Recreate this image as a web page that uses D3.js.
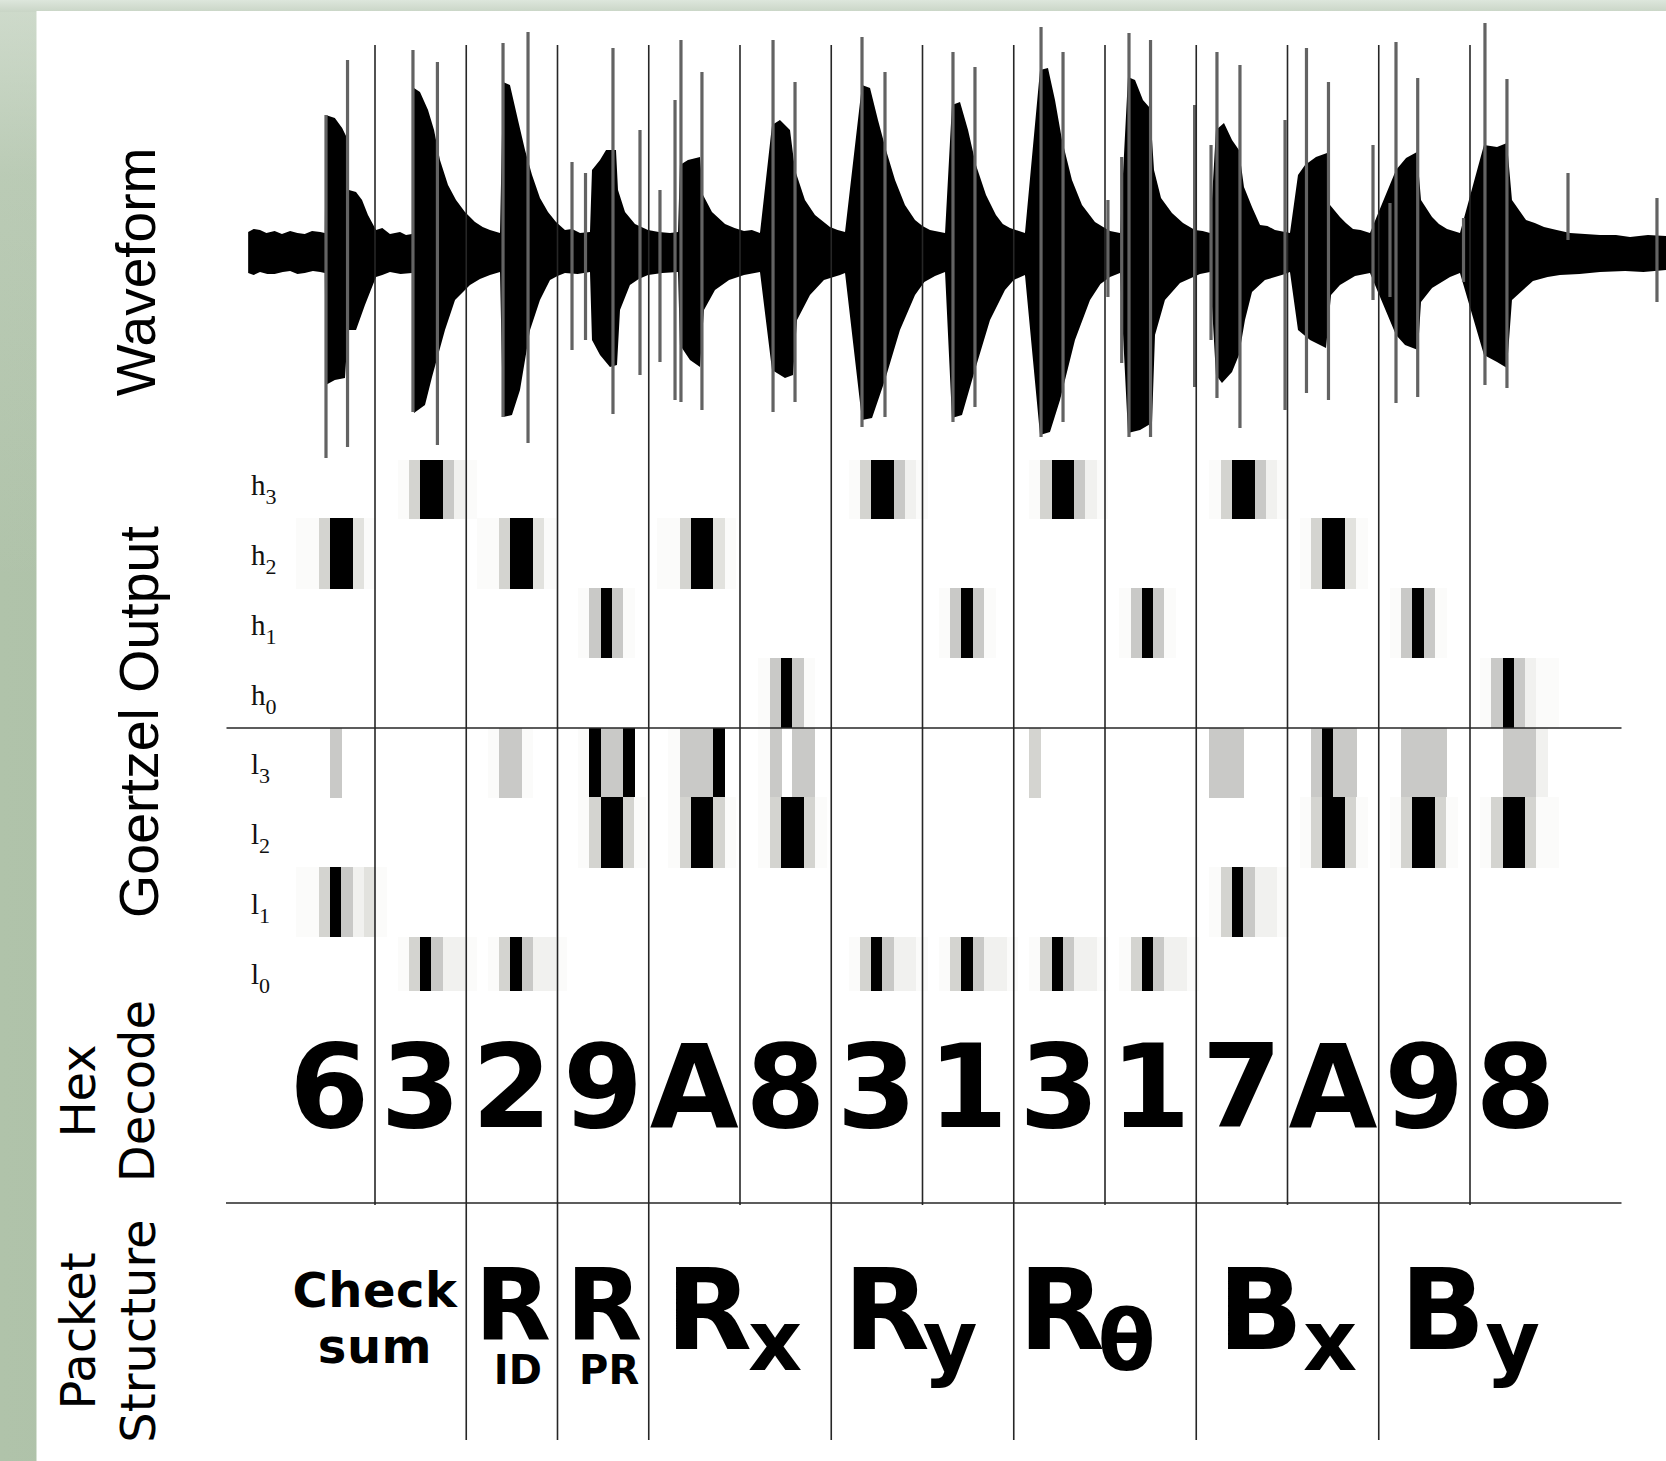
<!DOCTYPE html>
<html>
<head>
<meta charset="utf-8">
<script src="https://cdn.jsdelivr.net/npm/d3@7"></script>
<style>
  body { margin: 0; background: #fff; }
  svg { display: block; }
</style>
</head>
<body>
<div id="chart"></div>
<script>
var W = 1666, H = 1461;

// decoded symbols, one per time slot
var digits = ['6','3','2','9','A','8','3','1','3','1','7','A','9','8'];

// goertzel filter bank rows, top to bottom
var rowNames = ['h3','h2','h1','h0','l3','l2','l1','l0'];

// spectrogram: one char per time bin (8 bins per slot), '.'=0 ... '9'=full power
var gH3 = ['........','..149952','1.......','........','........','........','..149952','1.......','..149952','1.......','..149952','1.......','........','........','.'];
var gH2 = ['.1149931','........','.1149931','........','.1149931','........','........','........','........','........','........','..149931','........','........','.'];
var gH1 = ['........','........','........','..15951.','........','........','........','..15951.','........','..15951.','........','........','..15951.','........','.'];
var gH0 = ['........','........','........','........','........','..15951.','........','........','........','........','........','........','........','..159521','1'];
var gL3 = ['....5...','........','..1551..','..19559.','..15559.','..15.55.','........','........','..4.....','........','..555...','...5955.','...5555.','....5552','.'];
var gL2 = ['........','........','........','..149941','..149941','..149941','........','........','........','........','........','..149941','..149941','..149941','1'];
var gL1 = ['.1149523','1.......','........','........','........','........','........','........','........','........','..149522','1.......','........','........','.'];
var gL0 = ['........','..149522','1.149522','1.......','........','........','..149522','1.149522','1.149522','1.149522','1.......','........','........','........','.'];
var goertzel = [gH3, gH2, gH1, gH0, gL3, gL2, gL1, gL0].map(function(r) { return r.join(''); });

var shades = {'1':'#fbfbfa','2':'#f1f1ef','3':'#e2e2de','4':'#d4d4d0','5':'#c9c9c7','9':'#000000'};

// waveform envelope, time in 1/100 slot, amplitude in arbitrary units
var wfUpper = [[-39,20],[-33,23],[-26,22],[-19,19],[-10,21],[-2,18],[7,21],[15,19],[23,18],[31,21],[40,20],[45,19],
  [46,137],[56,134],[64,124],[70.4,112],[71.5,62],[79.2,60],[85.8,52],[92.3,37],[101.1,22],[108,24],[116.4,18],[127.4,20],[134,17],[140.5,18],
  [142.7,164],[149.3,160],[158.1,142],[164.7,122],[171.2,92],[180,67],[188.8,52],[198.6,40],[209.6,30],[218,25],[226,22],[237,19],
  [240.3,170],[247.9,167],[256.7,132],[264.4,102],[272.1,77],[280.8,54],[289.6,40],[298.4,30],[308.2,22],[316,23],[324.7,19],[335.6,20],
  [337.8,82],[346.6,92],[353.2,102],[364.1,102],[366.3,62],[374,40],[384.9,28],[392,25],[399.2,22],[411,20],[423.3,19],[432.1,20],
  [434.2,87],[443,92],[456.2,95],[459.5,57],[469.3,40],[483.6,28],[494,24],[504.4,21],[513,22],[521.9,19],
  [535.1,127],[543.8,132],[554.8,122],[560.3,82],[571.2,52],[582.2,37],[598.6,25],[607,22],[615.1,20],
  [633.7,167],[642.5,164],[651.2,132],[660,102],[669.9,72],[680.8,47],[691.8,32],[700,26],[708.2,22],[724.7,19],
  [732.3,147],[741.1,150],[749.9,122],[758.6,87],[769.6,57],[780.5,37],[788,28],[795.9,24],[812.3,19],
  [828.8,182],[837.5,184],[845.2,152],[852.9,112],[863.8,72],[874.8,47],[889,30],[898,25],[905.5,21],[916.4,19],
  [925.2,175],[932.9,172],[941.6,152],[949.3,144],[953.7,82],[961.4,54],[973.4,39],[985.5,29],[998.6,22],[1007,21],[1015.1,19],
  [1021.6,122],[1030.4,129],[1039.2,112],[1046.8,102],[1052.3,65],[1061.1,45],[1069.9,27],[1078,26],[1086.3,22],[1102.7,19],
  [1111.5,77],[1119.2,87],[1131.2,95],[1143.3,99],[1146.6,47],[1157.5,35],[1164,29],[1171.8,23],[1180,22],[1190.4,19],
  [1218.9,82],[1229.9,94],[1241.9,100],[1246.3,52],[1258.4,35],[1266,28],[1274.8,23],[1289,19],
  [1315.3,107],[1329.6,105],[1340.5,109],[1346,52],[1361.4,32],[1371,29],[1381.1,25],[1395,22],[1409.6,19],[1426,18],[1442.5,17],[1460,17],[1475.4,15],[1495,17],[1514.8,16]];

var wfLower = [[-39,-21],[-33,-23],[-26,-20],[-18,-22],[-10,-22],[-1,-20],[7,-19],[15,-22],[23,-21],[32,-19],[40,-20],[45,-21],
  [46,-133],[56,-128],[67.1,-126],[70.4,-78],[79.2,-78],[89,-53],[101.1,-25],[108,-23],[116.4,-20],[128,-22],[140.5,-21],
  [142.7,-161],[154.8,-153],[162.5,-125],[176.7,-78],[187.7,-48],[204.1,-33],[215,-27],[226,-23],[237,-20],
  [240.3,-165],[250.1,-163],[258.9,-138],[269.9,-78],[280.8,-48],[291.8,-28],[300,-24],[308.2,-21],[322,-22],[335.6,-20],
  [337.8,-88],[346.6,-103],[357.5,-115],[365.2,-113],[368.5,-58],[379.4,-33],[389,-27],[399.2,-23],[415,-21],[432.1,-20],
  [434.2,-93],[445.2,-108],[456.2,-115],[460.5,-58],[472.6,-38],[488,-28],[504.4,-23],[521.9,-20],
  [535.1,-118],[549.3,-126],[558.1,-123],[562.5,-68],[576.7,-43],[592,-28],[609.6,-23],[615.1,-21],
  [633.7,-168],[644.7,-166],[658.9,-128],[675.3,-78],[691.8,-43],[702,-30],[713.7,-24],[724.7,-20],
  [732.3,-166],[743.3,-163],[757.5,-118],[774,-68],[790.4,-38],[800,-28],[812.3,-23],
  [828.8,-183],[839.7,-180],[850.7,-148],[867.1,-88],[883.6,-48],[895,-32],[905.5,-25],[916.4,-21],
  [925.2,-181],[938.4,-178],[951.5,-171],[954.8,-83],[965.7,-48],[982.2,-31],[1004.1,-22],[1015.1,-20],
  [1021.6,-123],[1028.2,-131],[1039.2,-120],[1046.8,-103],[1053.4,-68],[1061.1,-40],[1075.3,-28],[1097.3,-22],[1102.7,-20],
  [1111.5,-78],[1124.7,-88],[1142.2,-96],[1147.7,-43],[1157.5,-33],[1174,-24],[1190.4,-21],
  [1218.9,-83],[1228.8,-93],[1243,-98],[1246.3,-50],[1258.4,-36],[1278.1,-25],[1289,-21],
  [1315.3,-103],[1329.6,-110],[1340.5,-116],[1346,-48],[1369,-29],[1385,-25],[1398.6,-23],[1420,-22],[1442.5,-20],[1470,-19],[1490,-20],[1514.8,-18]];

// clipped transients: time, top, bottom
var spikes = [[46.3,137,-206],[69.9,192,-195],[141.6,202,-160],[168.4,190,-193],[240.3,209,-165],[267.7,220,-191],
  [315.9,90,-98],[330.7,79,-88],[360.8,204,-162],[390.4,122,-123],[412.3,62,-110],[428.8,152,-148],
  [435.3,212,-150],[458.3,180,-158],[536.2,212,-160],[560.3,170,-150],[633.7,215,-175],[658.9,180,-165],
  [733.4,200,-170],[757.5,185,-155],[829.9,225,-185],[854,200,-170],
  [903.2,52,-45],[918.3,95,-111],[926.3,219,-185],[949.9,212,-185],[998.2,147,-135],[1016.2,107,-88],
  [1022.7,200,-146],[1047.9,187,-176],[1097.3,132,-158],[1120.8,204,-141],[1144.9,170,-148],[1193.7,107,-48],
  [1212.3,49,-45],[1218.9,210,-151],[1242.7,174,-145],[1292.9,34,-30],[1316.4,229,-133],[1340.5,173,-136],
  [1407.4,79,12],[1504.9,54,-50]];

// packet fields as slot ranges
var packetGroups = [
  {main:'Check', main2:'sum', first:0, last:2},
  {main:'R', under:'ID', first:2, last:3},
  {main:'R', under:'PR', first:3, last:4},
  {main:'R', sub:'x', first:4, last:6},
  {main:'R', sub:'y', first:6, last:8},
  {main:'R', sub:'\u03b8', first:8, last:10},
  {main:'B', sub:'x', first:10, last:12},
  {main:'B', sub:'y', first:12, last:14}
];

var svg = d3.select('#chart')
  .append('svg')
    .attr('width', W)
    .attr('height', H);

var defs = svg.append('defs');
var lg = defs.append('linearGradient').attr('id', 'side').attr('x1', 0).attr('x2', 1).attr('y1', 0).attr('y2', 0);
lg.append('stop').attr('offset', '0%').attr('stop-color', '#b0c3aa');
lg.append('stop').attr('offset', '55%').attr('stop-color', '#a2b79c');
lg.append('stop').attr('offset', '85%').attr('stop-color', '#93a88d');
lg.append('stop').attr('offset', '100%').attr('stop-color', '#76896f');
var vg = defs.append('linearGradient').attr('id', 'sidefade').attr('x1', 0).attr('x2', 0).attr('y1', 0).attr('y2', 1);
vg.append('stop').attr('offset', '0%').attr('stop-color', '#e4ebe3').attr('stop-opacity', 0.6);
vg.append('stop').attr('offset', '12%').attr('stop-color', '#e4ebe3').attr('stop-opacity', 0.2);
vg.append('stop').attr('offset', '40%').attr('stop-color', '#e4ebe3').attr('stop-opacity', 0);
var tg = defs.append('linearGradient').attr('id', 'topband').attr('x1', 0).attr('x2', 0).attr('y1', 0).attr('y2', 1);
tg.append('stop').attr('offset', '0%').attr('stop-color', '#dde6dc');
tg.append('stop').attr('offset', '100%').attr('stop-color', '#c9d5c6');

svg.append('rect').attr('width', W).attr('height', H).attr('fill', 'url(#side)');
svg.append('rect').attr('width', 37).attr('height', H).attr('fill', 'url(#sidefade)');
svg.append('rect').attr('x', 0).attr('y', 0).attr('width', W).attr('height', 12).attr('fill', 'url(#topband)');
svg.append('rect').attr('x', 36.5).attr('y', 11).attr('width', W - 36.5).attr('height', H - 11).attr('fill', '#fff');

// scales
var slot = d3.scaleLinear().domain([0, 14]).range([283.75, 1561.25]);
var time = d3.scaleLinear().domain([0, 1400]).range([283.75, 1561.25]);
var amp = d3.scaleLinear().domain([-200, 200]).range([452, 52]);
var bin = d3.scaleLinear().domain([0, 113]).range([284.9, 284.9 + 113 * 11.275]);
var row = d3.scaleBand().domain(rowNames).range([448.5, 1006.5]);

// waveform
var wave = svg.append('g');
var outline = wfUpper.concat(wfLower.slice().reverse());
wave.append('path')
  .attr('d', d3.line()
    .x(function(d) { return time(d[0]); })
    .y(function(d) { return amp(d[1]); })(outline) + 'Z')
  .attr('fill', '#000');

wave.selectAll('rect.spike')
  .data(spikes).enter()
  .append('rect')
    .attr('class', 'spike')
    .attr('x', function(d) { return time(d[0]) - 1.6; })
    .attr('width', 3.2)
    .attr('y', function(d) { return amp(d[1]); })
    .attr('height', function(d) { return amp(d[2]) - amp(d[1]); })
    .attr('fill', '#636363');

// goertzel output: merge runs of equal power into one cell
defs.append('clipPath').attr('id', 'gclip')
  .append('rect').attr('x', 0).attr('y', 460).attr('width', W).attr('height', 531);

var cells = [];
goertzel.forEach(function(s, r) {
  var i = 0;
  while (i < s.length) {
    var j = i;
    while (j + 1 < s.length && s[j + 1] === s[i]) j++;
    if (s[i] !== '.') cells.push({row: rowNames[r], i0: i, i1: j + 1, v: s[i]});
    i = j + 1;
  }
});

svg.append('g')
    .attr('clip-path', 'url(#gclip)')
    .attr('shape-rendering', 'crispEdges')
  .selectAll('rect')
  .data(cells).enter()
  .append('rect')
    .attr('x', function(d) { return bin(d.i0); })
    .attr('width', function(d) { return bin(d.i1) - bin(d.i0) + 0.5; })
    .attr('y', function(d) { return row(d.row); })
    .attr('height', row.bandwidth() + 0.5)
    .attr('fill', function(d) { return shades[d.v]; });

var rowLabels = svg.append('g')
  .selectAll('text')
  .data(rowNames).enter()
  .append('text')
    .attr('x', 251)
    .attr('y', function(d) { return row(d) + row.bandwidth() / 2 + 12; })
    .style('font-family', '"Liberation Serif", "DejaVu Serif", serif')
    .style('font-size', '29px')
    .attr('fill', '#111');
rowLabels.append('tspan').text(function(d) { return d[0]; });
rowLabels.append('tspan')
  .attr('dy', 9)
  .style('font-size', '22px')
  .text(function(d) { return d[1]; });

// grid
var grid = svg.append('g').attr('stroke', '#262626').attr('stroke-width', 1.6);
var boundaries = packetGroups.map(function(g) { return g.first; }).filter(function(k) { return k > 0; });
d3.range(1, 14).forEach(function(k) {
  var long = boundaries.indexOf(k) >= 0;
  grid.append('line')
    .attr('x1', slot(k)).attr('x2', slot(k))
    .attr('y1', 45).attr('y2', long ? 1440 : 1205);
});
grid.append('line').attr('x1', 226.5).attr('x2', 1621.5).attr('y1', 728).attr('y2', 728);
grid.append('line').attr('x1', 226).attr('x2', 1621.5).attr('y1', 1203).attr('y2', 1203);

// hex decode
svg.append('g')
  .selectAll('text')
  .data(digits).enter()
  .append('text')
    .attr('x', function(d, i) { return slot(i + 0.5); })
    .attr('y', 1127)
    .attr('text-anchor', 'middle')
    .style('font-family', '"DejaVu Sans", sans-serif')
    .style('font-weight', 'bold')
    .style('font-size', '115px')
    .text(function(d) { return d; });

// packet structure
var bold = '"DejaVu Sans", sans-serif';
var subShift = {x: -6, y: -12, '\u03b8': -18};
packetGroups.forEach(function(g) {
  var cx = slot((g.first + g.last) / 2);
  var t = svg.append('text')
    .attr('text-anchor', 'middle')
    .style('font-family', bold).style('font-weight', 'bold');
  if (g.main2) {
    [g.main, g.main2].forEach(function(s, j) {
      t.append('tspan')
        .attr('x', cx).attr('y', 1307 + j * 56)
        .style('font-size', '48px')
        .style('letter-spacing', '0.5px')
        .text(s);
    });
  } else if (g.under) {
    t.append('tspan')
      .attr('x', cx + 1).attr('y', 1340)
      .style('font-size', '99px')
      .text(g.main);
    t.append('tspan')
      .attr('x', cx + 6).attr('y', 1384)
      .style('font-size', '40px')
      .text(g.under);
  } else {
    var shift = g.main === 'R' ? subShift[g.sub] : 0;
    t.attr('x', cx + shift).attr('y', 1349)
      .style('font-size', '112px');
    t.append('tspan').text(g.main);
    t.append('tspan')
      .attr('dy', 21)
      .attr('dx', g.main === 'R' ? (g.sub === 'x' ? -4 : -7) : 0)
      .style('font-size', '84px')
      .text(g.sub);
  }
});

// side titles
var titles = [
  {lines:['Waveform'], font:'"Liberation Sans", Arial, sans-serif', size:55, x:[155], y:272},
  {lines:['Goertzel Output'], font:'"Liberation Sans", Arial, sans-serif', size:55.5, x:[158], y:722},
  {lines:['Hex','Decode'], font:'"DejaVu Sans", sans-serif', size:48, x:[95,154], y:1091},
  {lines:['Packet','Structure'], font:'"DejaVu Sans", sans-serif', size:48, x:[95,155], y:1331}
];
titles.forEach(function(t) {
  t.lines.forEach(function(s, j) {
    svg.append('text')
      .attr('transform', 'translate(' + t.x[j] + ',' + t.y + ') rotate(-90)')
      .attr('text-anchor', 'middle')
      .style('font-family', t.font)
      .style('font-size', t.size + 'px')
      .attr('fill', '#000')
      .text(s);
  });
});
</script>
</body>
</html>
